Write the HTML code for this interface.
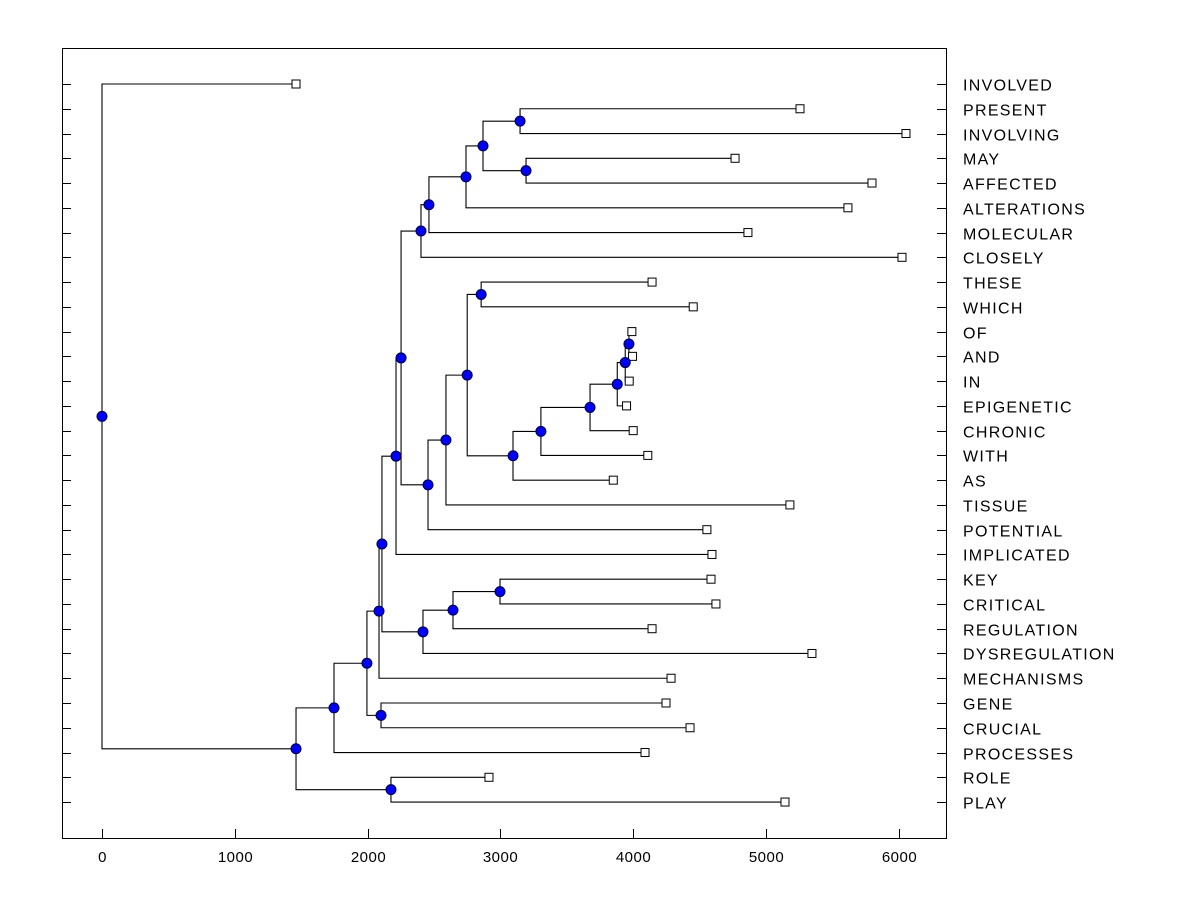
<!DOCTYPE html>
<html><head><meta charset="utf-8"><style>
html,body{margin:0;padding:0;background:#fff;}
svg{display:block;font-family:"Liberation Sans",Arial,sans-serif;}
</style></head><body>
<svg id="chart" width="1200" height="900" viewBox="0 0 1200 900" xmlns="http://www.w3.org/2000/svg">
<rect x="0" y="0" width="1200" height="900" fill="#fff"/>
<rect x="62.5" y="48.5" width="884" height="790" fill="none" stroke="#000" stroke-width="1"/>
<g id="g"></g>
</svg>
<script>
const labels = ["INVOLVED","PRESENT","INVOLVING","MAY","AFFECTED","ALTERATIONS","MOLECULAR","CLOSELY","THESE","WHICH","OF","AND","IN","EPIGENETIC","CHRONIC","WITH","AS","TISSUE","POTENTIAL","IMPLICATED","KEY","CRITICAL","REGULATION","DYSREGULATION","MECHANISMS","GENE","CRUCIAL","PROCESSES","ROLE","PLAY"];
const leafValues = [1461,5256,6054,4767,5798,5617,4864,6024,4142,4452,3990,3995,3970,3950,4000,4110,3850,5180,4555,4593,4586,4623,4142,5346,4285,4247,4428,4089,2914,5143];
const mergeA = [1,3,30,32,33,34,8,10,37,38,39,40,41,36,43,44,35,46,20,48,49,47,51,25,52,54,28,55,0];
const mergeB = [2,4,31,5,6,7,9,11,12,13,14,15,16,42,17,18,45,19,21,22,23,50,24,26,53,27,29,56,57];
const mergeHeights = [3148,3193,2869,2741,2462,2402,2855,3968,3940,3880,3675,3305,3095,2750,2590,2455,2252,2214,2997,2643,2417,2108,2086,2101,1995,1747,2176,1461,0];
const xTicks = [0,1000,2000,3000,4000,5000,6000];

const NS="http://www.w3.org/2000/svg";
const g=document.getElementById('g');
const xs=v=>102+v*0.1328;
const ys=i=>84+i*24.76;
function mk(t,a){const e=document.createElementNS(NS,t);for(const k in a)e.setAttribute(k,a[k]);g.appendChild(e);return e;}
const n=labels.length;
const nodeX=[],nodeY=[];
for(let i=0;i<n;i++){nodeX.push(xs(leafValues[i]));nodeY.push(ys(i));}
for(let k=0;k<mergeA.length;k++){
  const a=mergeA[k],b=mergeB[k],x=xs(mergeHeights[k]);
  nodeX.push(x);nodeY.push((nodeY[a]+nodeY[b])/2);
}
xTicks.forEach(t=>{
  const x=Math.round(xs(t))+0.5;
  const l=mk('line',{x1:x,y1:838,x2:x,y2:829,stroke:'#000'});
  
  
  const tx=mk('text',{x:x,y:862,'text-anchor':'middle','font-size':'15','letter-spacing':'0.5'});
  tx.textContent=t;
  
  
});
for(let i=0;i<n;i++){
  const y=Math.round(ys(i))+0.5;
  const l1=mk('line',{x1:62,y1:y,x2:71,y2:y,stroke:'#000'});
  
  
  const l2=mk('line',{x1:937,y1:y,x2:946,y2:y,stroke:'#000'});
  
  
  const tx=mk('text',{x:963,y:y+6,'font-size':'16','letter-spacing':'1.3'});
  tx.textContent=labels[i];
  
  
}
for(let k=0;k<mergeA.length;k++){
  const id=n+k,a=mergeA[k],b=mergeB[k],x=nodeX[id];
  const p=mk('path',{d:`M${nodeX[a]},${nodeY[a]}H${x}V${nodeY[b]}H${nodeX[b]}`,fill:'none',stroke:'#000','stroke-width':'1.1'});
  
  
}
for(let i=0;i<n;i++){
  const r=mk('rect',{x:nodeX[i]-4,y:nodeY[i]-4,width:8,height:8,fill:'#fff',stroke:'#000','stroke-width':'1'});
  
  
}
for(let k=0;k<mergeA.length;k++){
  const id=n+k;
  const c=mk('circle',{cx:nodeX[id],cy:nodeY[id],r:5,fill:'#0000ff',stroke:'#000033','stroke-width':'1'});
  
  
}
</script>
</body></html>
